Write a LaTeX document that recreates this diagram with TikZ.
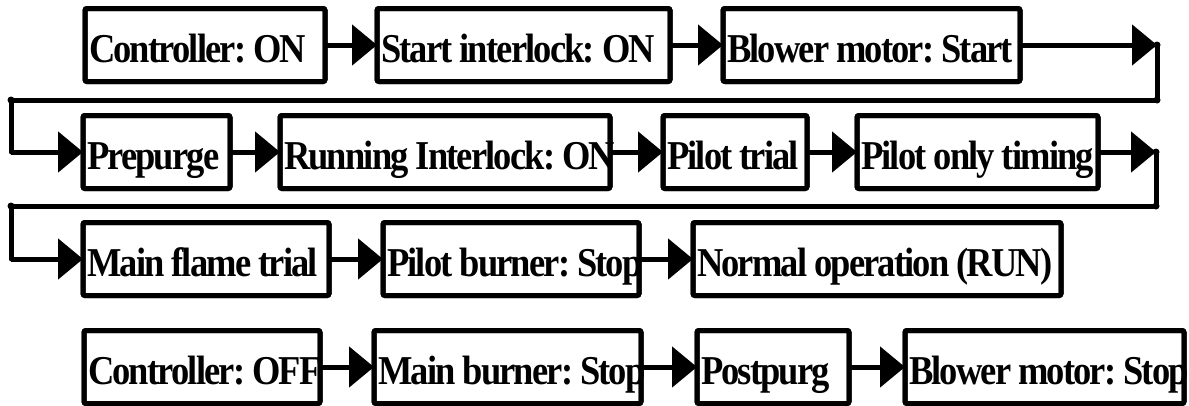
\documentclass[tikz,border=0pt]{standalone}
\usepackage{fontspec}
\setmainfont{Liberation Serif}[FakeStretch=0.89,LetterSpace=-4.5]
\usepackage{tikz}
\usetikzlibrary{arrows.meta}
\tikzset{stepbox/.style = {draw, line width=5pt, rounded corners=2pt,
  anchor=west, inner xsep=4pt, inner ysep=0pt, outer sep=0pt,
  minimum height=73pt, text width=#1,
  text height=35pt, text depth=0pt,
  font=\bfseries\fontsize{41}{44}\selectfont,
  execute at begin node={\spaceskip=7pt\xspaceskip=7pt\relax\hbox to 0pt\bgroup},
  execute at end node={\hss\egroup}},
  frame/.style = {line width=5pt, rounded corners=2pt},
  flow/.style = {line width=5pt, -{Triangle[length=25pt,width=40pt]}},
  link/.style = {line width=5pt, line cap=round, line join=round}}

\begin{document}
\begin{tikzpicture}[x=1pt,y=-1pt]
  \useasboundingbox (0,0) rectangle (1189,405);
  % start sequence
  \node[stepbox=232pt] (C1) at (85,45) {Controller: ON};
  \node[stepbox=285pt] (C2) at (377,45) {Start interlock: ON};
  \node[stepbox=289pt] (C3) at (723,45) {Blower motor: Start};
  \node[stepbox=139pt] (P1) at (83,152) {Prepurge};
  \node[stepbox=322pt] (P2) at (280,152) {Running Interlock: ON};
  \node[stepbox=136pt] (P3) at (663,152) {Pilot trial};
  \node[stepbox=233pt] (P4) at (857,152) {Pilot only timing};
  \node[stepbox=238pt] (M1) at (83,259) {Main flame trial};
  \node[stepbox=248pt] (M2) at (383,259) {Pilot burner: Stop};
  \node[stepbox=360pt] (M3) at (693,259) {Normal operation (RUN)};
  % stop sequence
  \node[stepbox=228pt] (S1) at (84,367) {Controller: OFF};
  \node[stepbox=259pt] (S2) at (374,367) {Main burner: Stop};
  \node[stepbox=144pt] (S3) at (697,367) {Postpurg};
  \node[stepbox=271pt] (S4) at (905,367) {Blower motor: Stop};
  % frames over the text ends
  \foreach \n in {C1,C2,C3,P1,P2,P3,P4,M1,M2,M3,S1,S2,S3,S4}
    \draw[frame] (\n.south west) rectangle (\n.north east);
  \coordinate (E1) at (1157,45);
  \coordinate (E2) at (1157,100);
  \coordinate (E3) at (11,100);
  \coordinate (E4) at (11,152);
  \coordinate (F1) at (1156,152);
  \coordinate (F2) at (1156,206);
  \coordinate (F3) at (11,206);
  \coordinate (F4) at (11,259);
  \path[flow] (C1) edge (C2) (C2) edge (C3) (C3) edge (E1);
  \draw[link] (E1) -- (E2) -- (E3) -- (E4);
  \path[flow] (E4) edge (P1) (P1) edge (P2) (P2) edge (P3) (P3) edge (P4) (P4) edge (F1);
  \draw[link] (F1) -- (F2) -- (F3) -- (F4);
  \path[flow] (F4) edge (M1) (M1) edge (M2) (M2) edge (M3);
  \path[flow] (S1) edge (S2) (S2) edge (S3) (S3) edge (S4);
  \foreach \c in {E1,E2,E3,F1,F2,F3} \fill (\c) circle (3.5pt);
\end{tikzpicture}
\end{document}
